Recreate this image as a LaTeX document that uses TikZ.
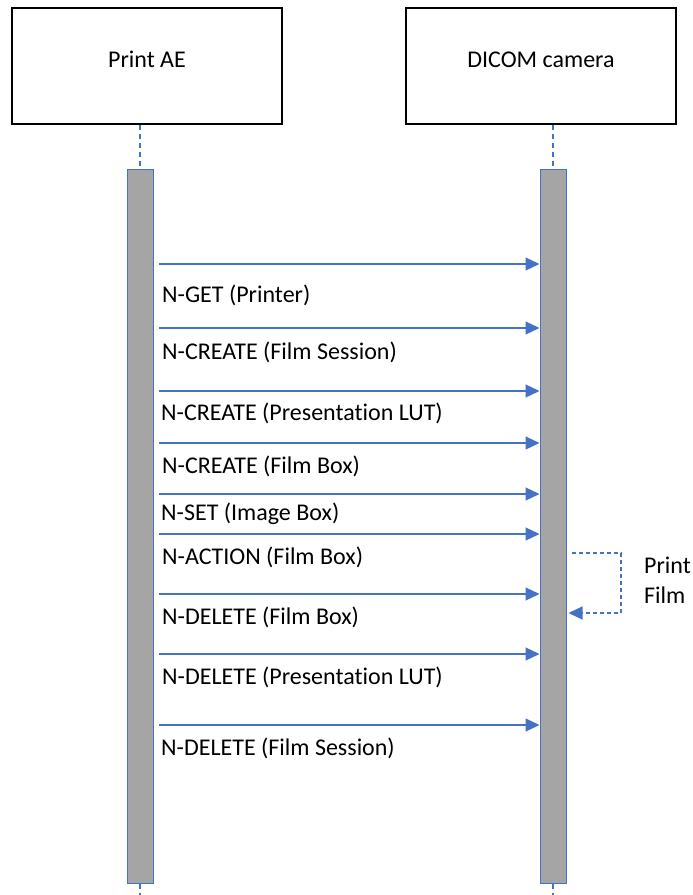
\documentclass[tikz,border=0pt]{standalone}
\usepackage{fontspec}
\setmainfont{Carlito}[Ligatures=NoCommon]
\usepackage{xcolor}
\usepackage{tikz}
\usetikzlibrary{positioning, arrows.meta, calc}
\definecolor{msgblue}{RGB}{68, 114, 196}
\definecolor{bargray}{RGB}{165, 165, 165}

\begin{document}
\begin{tikzpicture}[
        x=1pt, y=-1pt,
        every node/.style={font=\fontsize{24}{29.5}\selectfont},
        actor/.style={rectangle, draw, line width=1.4pt, fill=white, minimum width=270pt, minimum height=116pt, text height=15pt, text depth=12pt},
        bar/.style={rectangle, draw=msgblue, line width=1pt, fill=bargray, minimum width=26pt, minimum height=714pt, inner sep=0pt},
        lifeline/.style={msgblue, line width=1.3pt, dash pattern=on 5pt off 4pt},
        arrow/.style={-{Triangle[length=14pt, width=13pt]}, msgblue, line width=1.2pt},
        selfarrow/.style={-{Triangle[length=14pt, width=13pt]}, msgblue, line width=1.2pt, dash pattern=on 4pt off 3pt},
        msglabel/.style={anchor=base west, inner sep=0pt}
    ]
        \useasboundingbox (0,0) rectangle (693,895);

        % Actors
        \node[actor] (ae) at (147,66) {Print AE};
        \node[actor] (cam) at (541,66) {DICOM camera};

        % Activation bars
        \node[bar] (barL) at (140,526) {};
        \node[bar] (barR) at (553,526) {};

        % Lifelines
        \coordinate (endL) at (140,895);
        \coordinate (endR) at (553,895);
        \draw[lifeline] (barL.north |- ae.south) -- (barL.north);
        \draw[lifeline] (barR.north |- cam.south) -- (barR.north);
        \draw[lifeline] (barL.south) -- (endL);
        \draw[lifeline] (barR.south) -- (endR);

        % Requests
        \coordinate (m1) at (159,264);
        \draw[arrow] (m1) -- (m1 -| barR.west);
        \node[msglabel] (l1) at (162,302) {N-GET (Printer)};

        \coordinate (m2) at (159,328);
        \draw[arrow] (m2) -- (m2 -| barR.west);
        \node[msglabel] (l2) at (162,359) {N-CREATE (Film Session)};

        \coordinate (m3) at (159,391);
        \draw[arrow] (m3) -- (m3 -| barR.west);
        \node[msglabel] (l3) at (161,420) {N-CREATE (Presentation LUT)};

        \coordinate (m4) at (159,443);
        \draw[arrow] (m4) -- (m4 -| barR.west);
        \node[msglabel] (l4) at (162,473) {N-CREATE (Film Box)};

        \coordinate (m5) at (159,494);
        \draw[arrow] (m5) -- (m5 -| barR.west);
        \node[msglabel] (l5) at (161,520) {N-SET (Image Box)};

        \coordinate (m6) at (159,534);
        \draw[arrow] (m6) -- (m6 -| barR.west);
        \node[msglabel] (l6) at (162,564) {N-ACTION (Film Box)};

        \coordinate (m7) at (159,594);
        \draw[arrow] (m7) -- (m7 -| barR.west);
        \node[msglabel] (l7) at (162,624) {N-DELETE (Film Box)};

        \coordinate (m8) at (159,654);
        \draw[arrow] (m8) -- (m8 -| barR.west);
        \node[msglabel] (l8) at (162,684) {N-DELETE (Presentation LUT)};

        \coordinate (m9) at (159,725);
        \draw[arrow] (m9) -- (m9 -| barR.west);
        \node[msglabel] (l9) at (161,755) {N-DELETE (Film Session)};

        % Self message
        \coordinate (s1) at (572,553);
        \coordinate (s2) at (621,613);
        \draw[selfarrow] (s1) -| (s2) -- ([xshift=2pt]s2 -| barR.east);
        \node[msglabel, align=left] (pf) at (644,603) {Print\\Film};
    \end{tikzpicture}
\end{document}
